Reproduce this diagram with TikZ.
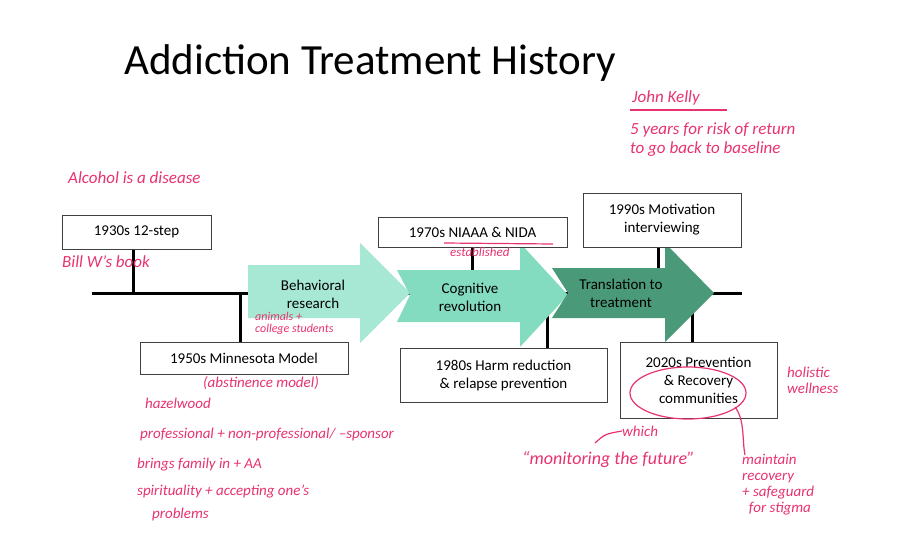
\documentclass[tikz,border=0pt]{standalone}
\usepackage{fontspec}
\setmainfont{Carlito}
\begin{document}
\begin{tikzpicture}[x=1pt,y=-1pt,
 box/.style={draw=black!75,fill=white,line width=0.8pt,inner sep=0pt,align=center,font=\fontsize{15}{18}\selectfont},
 stem/.style={line width=3pt},
 note/.style={text=pinkn,font=\fontsize{15}{16}\selectfont\itshape,anchor=west,align=left,inner sep=0pt},
 lbl/.style={font=\fontsize{15}{18}\selectfont,align=center}]
\definecolor{a1}{HTML}{A6E8D3}\definecolor{a2}{HTML}{84DCC0}\definecolor{a3}{HTML}{4A9A7A}
\definecolor{pinkn}{HTML}{E8336E}
\useasboundingbox (0,0) rectangle (900,546);
\fill[white] (0,0) rectangle (900,546);
\node[font=\fontsize{43}{46}\selectfont,anchor=west,inner sep=0pt] (title) at (124,63) {Addiction Treatment History};
% timeline
\coordinate (L) at (92,293); \coordinate (R) at (742,293);
\draw[stem] (L) -- (R);
% stems
\draw[stem] (133,249) -- (133,293);
\draw[stem] (240,293) -- (240,342);
\draw[stem] (472,247) -- (472,293);
\draw[stem] (547,293) -- (547,348);
\draw[stem] (658,247) -- (658,293);
\draw[stem] (692,293) -- (692,342);
% arrows
\fill[a1] (248,265) -- (360,265) -- (360,243) -- (410,293) -- (360,343) -- (360,318) -- (248,318) -- cycle;
\fill[a2] (397,270) -- (520,270) -- (520,243) -- (568,295) -- (520,347) -- (520,322) -- (397,322) -- (410,295) -- cycle;
\fill[a3] (552,268) -- (665,268) -- (665,243) -- (714,293) -- (665,342) -- (665,318) -- (552,318) -- (568,293) -- cycle;
\node[lbl] (b1) at (313,294) {Behavioral\\research};
\node[lbl] (b2) at (470,297) {Cognitive\\revolution};
\node[lbl] (b3) at (621,293) {Translation to\\treatment};
% boxes
\node[box,minimum width=149,minimum height=34] (n30) at (136.5,232) {1930s 12-step};
\node[box,minimum width=208,minimum height=32] (n50) at (244,358) {1950s Minnesota Model};
\node[box,minimum width=189,minimum height=30] (n70) at (472.5,232) {1970s NIAAA \& NIDA};
\node[box,minimum width=207,minimum height=54] (n80) at (503.5,375) {1980s Harm reduction\\\& relapse prevention};
\node[box,minimum width=158,minimum height=54] (n90) at (662,220) {1990s Motivation\\interviewing};
\node[box,minimum width=157,minimum height=76] (n20) at (698.5,380) {2020s Prevention\\\& Recovery\\communities};
% notes
\draw[pinkn,line width=1.2pt] (444,243) -- (553,244);
\node[note,font=\fontsize{13}{14}\selectfont\itshape] (est) at (450,252) {established};
\node[note,font=\fontsize{17}{18}\selectfont\itshape] (jk) at (632,98) {John Kelly};
\draw[pinkn,line width=1.2pt] (630,110) -- (727,110);
\node[note,font=\fontsize{17}{19}\selectfont\itshape] (jk2) at (630,140) {5 years for risk of return\\to go back to baseline};
\node[note,font=\fontsize{17}{18}\selectfont\itshape] (alc) at (68,178) {Alcohol is a disease};
\node[note,font=\fontsize{17}{18}\selectfont\itshape] (bill) at (62,262) {Bill W's book};
\node[note,font=\fontsize{12}{12}\selectfont\itshape] (anim) at (255,323) {animals +\\college students};
\node[note] (abs) at (203,383) {(abstinence model)};
\node[note] (haz) at (145,403) {hazelwood};
\node[note] (prof) at (140,434) {professional + non-professional/ --sponsor};
\node[note] (fam) at (137,465) {brings family in + AA};
\node[note,font=\fontsize{15}{23}\selectfont\itshape] (spir) at (137,503) {spirituality + accepting one's\\\quad problems};
\node[note] (hol) at (787,380) {holistic\\wellness};
\node[note] (which) at (622,431) {which};
\draw[pinkn,line width=1.2pt] (which.west) .. controls (605,434) .. (595,443);
\node[note,font=\fontsize{18}{19}\selectfont\itshape] (mon) at (522,460) {``monitoring the future''};
\draw[pinkn,line width=1.2pt] (688,393) ellipse (58 and 26);
\node[note] (main) at (742,485) {maintain\\recovery\\+ safeguard\\\ \ for stigma};
\draw[pinkn,line width=1.2pt] (735,407) .. controls (745,420) and (742,440) .. (745,455);
\end{tikzpicture}
\end{document}
